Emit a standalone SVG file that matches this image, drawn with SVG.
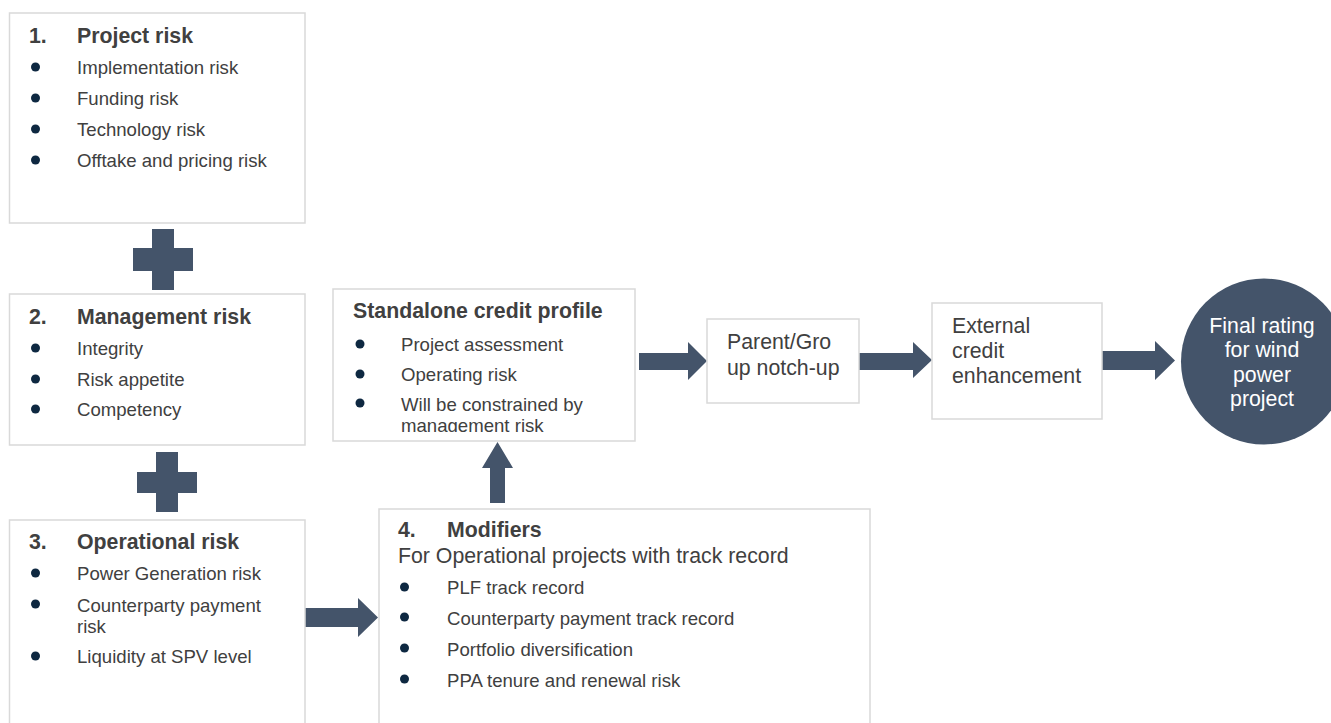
<svg xmlns="http://www.w3.org/2000/svg" width="1331" height="723" viewBox="0 0 1331 723">
<style>
.box{fill:#fff;stroke:#D9D9D9;stroke-width:1.5}
.t{font-family:"Liberation Sans",Arial,sans-serif;fill:#404040}
.h{font-size:21.3px;font-weight:bold}
.i{font-size:18.6px}
.m{font-size:21.3px}
.w{font-family:"Liberation Sans",Arial,sans-serif;fill:#fff;font-size:21.3px;text-anchor:middle}
.b{fill:#0E2841}
.a{fill:#44546A}
</style>
<defs>
<clipPath id="scpClip"><rect x="333" y="289" width="302" height="143"/></clipPath>
</defs>
<rect width="1331" height="723" fill="#fff"/>

<g id="connectors">
<polygon class="a" points="152,229 174,229 174,248 193,248 193,271 174,271 174,290 152,290 152,271 133,271 133,248 152,248"/>
<polygon class="a" points="156,452 178,452 178,472 197,472 197,493 178,493 178,512 156,512 156,493 137,493 137,472 156,472"/>
<polygon class="a" points="305,608 358,608 358,598 378,617.5 358,637 358,627 305,627"/>
<polygon class="a" points="490,503 490,468 482,468 497.5,442 513,468 505,468 505,503"/>
<polygon class="a" points="639,353 688,353 688,342 707,361 688,380 688,370 639,370"/>
<polygon class="a" points="859,353 913,353 913,342 932,360 913,378 913,370 859,370"/>
<polygon class="a" points="1102,351 1155,351 1155,341 1175,360.5 1155,380 1155,370 1102,370"/>
</g>

<g id="project-risk">
<rect class="box" x="9.5" y="13" width="295.5" height="210"/>
<text class="t h" x="29" y="43">1.</text>
<text class="t h" x="77" y="43">Project risk</text>
<circle class="b" cx="35.5" cy="67" r="4.5"/>
<text class="t i" x="77" y="74">Implementation risk</text>
<circle class="b" cx="35.5" cy="98" r="4.5"/>
<text class="t i" x="77" y="105">Funding risk</text>
<circle class="b" cx="35.5" cy="129" r="4.5"/>
<text class="t i" x="77" y="136">Technology risk</text>
<circle class="b" cx="35.5" cy="160" r="4.5"/>
<text class="t i" x="77" y="167">Offtake and pricing risk</text>
</g>

<g id="management-risk">
<rect class="box" x="9.5" y="294" width="295.5" height="151"/>
<text class="t h" x="29" y="324">2.</text>
<text class="t h" x="77" y="324">Management risk</text>
<circle class="b" cx="35.5" cy="348" r="4.5"/>
<text class="t i" x="77" y="355">Integrity</text>
<circle class="b" cx="35.5" cy="379" r="4.5"/>
<text class="t i" x="77" y="386">Risk appetite</text>
<circle class="b" cx="35.5" cy="409" r="4.5"/>
<text class="t i" x="77" y="416">Competency</text>
</g>

<g id="operational-risk">
<rect class="box" x="9.5" y="520" width="295.5" height="215"/>
<text class="t h" x="29" y="549">3.</text>
<text class="t h" x="77" y="549">Operational risk</text>
<circle class="b" cx="35.5" cy="573" r="4.5"/>
<text class="t i" x="77" y="580">Power Generation risk</text>
<circle class="b" cx="35.5" cy="604" r="4.5"/>
<text class="t i" x="77" y="612">Counterparty payment</text>
<text class="t i" x="77" y="633">risk</text>
<circle class="b" cx="35.5" cy="656" r="4.5"/>
<text class="t i" x="77" y="663">Liquidity at SPV level</text>
</g>

<g id="modifiers">
<rect class="box" x="379" y="509" width="491" height="225"/>
<text class="t h" x="398" y="537">4.</text>
<text class="t h" x="447" y="537">Modifiers</text>
<text class="t m" x="398" y="563">For Operational projects with track record</text>
<circle class="b" cx="404.5" cy="587" r="4.5"/>
<text class="t i" x="447" y="594">PLF track record</text>
<circle class="b" cx="404.5" cy="617" r="4.5"/>
<text class="t i" x="447" y="625">Counterparty payment track record</text>
<circle class="b" cx="404.5" cy="648" r="4.5"/>
<text class="t i" x="447" y="656">Portfolio diversification</text>
<circle class="b" cx="404.5" cy="679" r="4.5"/>
<text class="t i" x="447" y="687">PPA tenure and renewal risk</text>
</g>

<g id="standalone-credit-profile">
<rect class="box" x="333" y="289" width="302" height="152"/>
<text class="t h" x="353" y="318">Standalone credit profile</text>
<circle class="b" cx="360" cy="344" r="4.5"/>
<text class="t i" x="401" y="351">Project assessment</text>
<circle class="b" cx="360" cy="374" r="4.5"/>
<text class="t i" x="401" y="381">Operating risk</text>
<circle class="b" cx="360" cy="403" r="4.5"/>
<g clip-path="url(#scpClip)">
<text class="t i" x="401" y="411">Will be constrained by</text>
<text class="t i" x="401" y="432">management risk</text>
</g>
</g>

<g id="parent-notch-up">
<rect class="box" x="707" y="319" width="152" height="84"/>
<text class="t m" x="727" y="349">Parent/Gro</text>
<text class="t m" x="727" y="375">up notch-up</text>
</g>

<g id="external-credit">
<rect class="box" x="932" y="303" width="170" height="116"/>
<text class="t m" x="952" y="333">External</text>
<text class="t m" x="952" y="358">credit</text>
<text class="t m" x="952" y="383">enhancement</text>
</g>

<g id="final-rating">
<circle class="a" cx="1264" cy="361.5" r="83"/>
<text class="w" x="1262" y="333">Final rating</text>
<text class="w" x="1262" y="357">for wind</text>
<text class="w" x="1262" y="382">power</text>
<text class="w" x="1262" y="406">project</text>
</g>
</svg>
